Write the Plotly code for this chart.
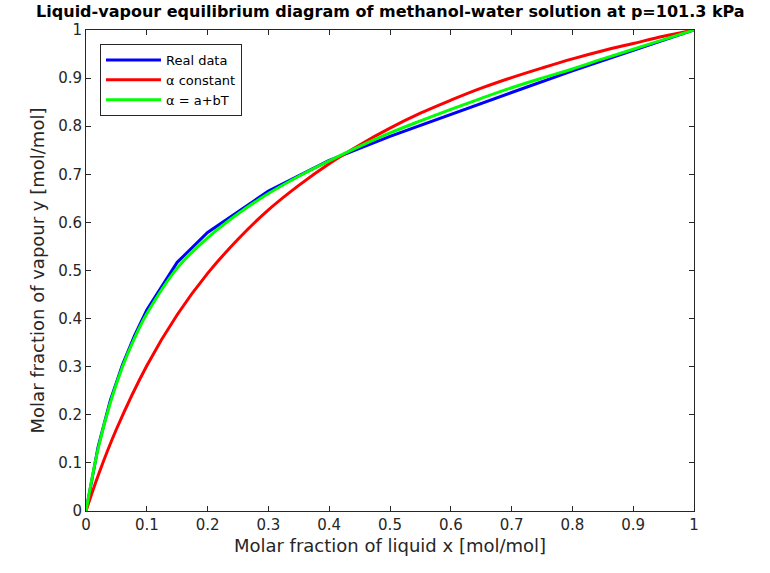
import plotly.graph_objects as go

# Real data (methanol-water VLE at 101.3 kPa)
x_real = [0.0, 0.02, 0.04, 0.06, 0.08, 0.10, 0.15, 0.20, 0.30, 0.40, 0.50, 0.60, 0.70, 0.80, 0.90, 0.95, 1.0]
y_real = [0.0, 0.134, 0.230, 0.304, 0.365, 0.418, 0.517, 0.579, 0.665, 0.729, 0.779, 0.825, 0.870, 0.915, 0.958, 0.979, 1.0]

# alpha constant model
x_const = [0.0, 0.02, 0.05, 0.10, 0.15, 0.20, 0.25, 0.30, 0.35, 0.40, 0.45, 0.50, 0.55, 0.60, 0.65, 0.70, 0.75, 0.80, 0.85, 0.90, 0.95, 1.0]
y_const = [0.0, 0.074, 0.170, 0.302, 0.408, 0.494, 0.565, 0.626, 0.677, 0.722, 0.761, 0.796, 0.827, 0.854, 0.879, 0.901, 0.921, 0.940, 0.957, 0.972, 0.987, 1.0]

# alpha = a + bT model
x_lin = [0.0, 0.02, 0.04, 0.06, 0.08, 0.10, 0.15, 0.20, 0.25, 0.30, 0.35, 0.40, 0.45, 0.50, 0.55, 0.60, 0.65, 0.70, 0.75, 0.80, 0.85, 0.90, 0.95, 1.0]
y_lin = [0.0, 0.130, 0.225, 0.300, 0.360, 0.410, 0.505, 0.568, 0.618, 0.660, 0.696, 0.728, 0.758, 0.786, 0.811, 0.835, 0.858, 0.880, 0.900, 0.919, 0.940, 0.960, 0.980, 1.0]

ticks = [i / 10 for i in range(11)]
ticktext = ["0", "0.1", "0.2", "0.3", "0.4", "0.5", "0.6", "0.7", "0.8", "0.9", "1"]

FONT = "DejaVu Sans, Liberation Sans, Arial"

fig = go.Figure()
fig.add_trace(go.Scatter(x=x_real, y=y_real, mode="lines", name="Real data",
                         line=dict(color="#0000ff", width=3)))
fig.add_trace(go.Scatter(x=x_const, y=y_const, mode="lines", name="α constant",
                         line=dict(color="#ff0000", width=3, shape="spline")))
fig.add_trace(go.Scatter(x=x_lin, y=y_lin, mode="lines", name="α = a+bT",
                         line=dict(color="#00ff00", width=3, shape="spline")))

axis_common = dict(range=[0, 1], tickvals=ticks, ticktext=ticktext, ticks="inside", ticklen=5,
                   tickcolor="#262626", showline=True, linecolor="#262626", linewidth=1,
                   mirror="ticks", showgrid=False, zeroline=False,
                   tickfont=dict(family=FONT, size=15, color="#262626"))

fig.update_layout(
    width=770, height=573,
    margin=dict(l=86, r=76, t=30, b=62),
    paper_bgcolor="white", plot_bgcolor="white",
    title=dict(text="<b>Liquid-vapour equilibrium diagram of methanol-water solution at p=101.3 kPa</b>",
               x=0.507, xanchor="center", yref="container", y=1 - 11.5 / 573, yanchor="middle",
               font=dict(family=FONT, size=16, color="black")),
    xaxis=dict(**axis_common, title=dict(text="Molar fraction of liquid x [mol/mol]", standoff=6,
               font=dict(family=FONT, size=18, color="#262626"))),
    yaxis=dict(**axis_common, title=dict(text="Molar fraction of vapour y [mol/mol]", standoff=8,
               font=dict(family=FONT, size=18, color="#262626"))),
    legend=dict(x=0.023, y=0.971, xanchor="left", yanchor="top", bgcolor="white",
                bordercolor="#262626", borderwidth=1, itemwidth=55,
                font=dict(family=FONT, size=13, color="black"),
                tracegroupgap=0),
    showlegend=True,
)

fig.write_html("out.html")
